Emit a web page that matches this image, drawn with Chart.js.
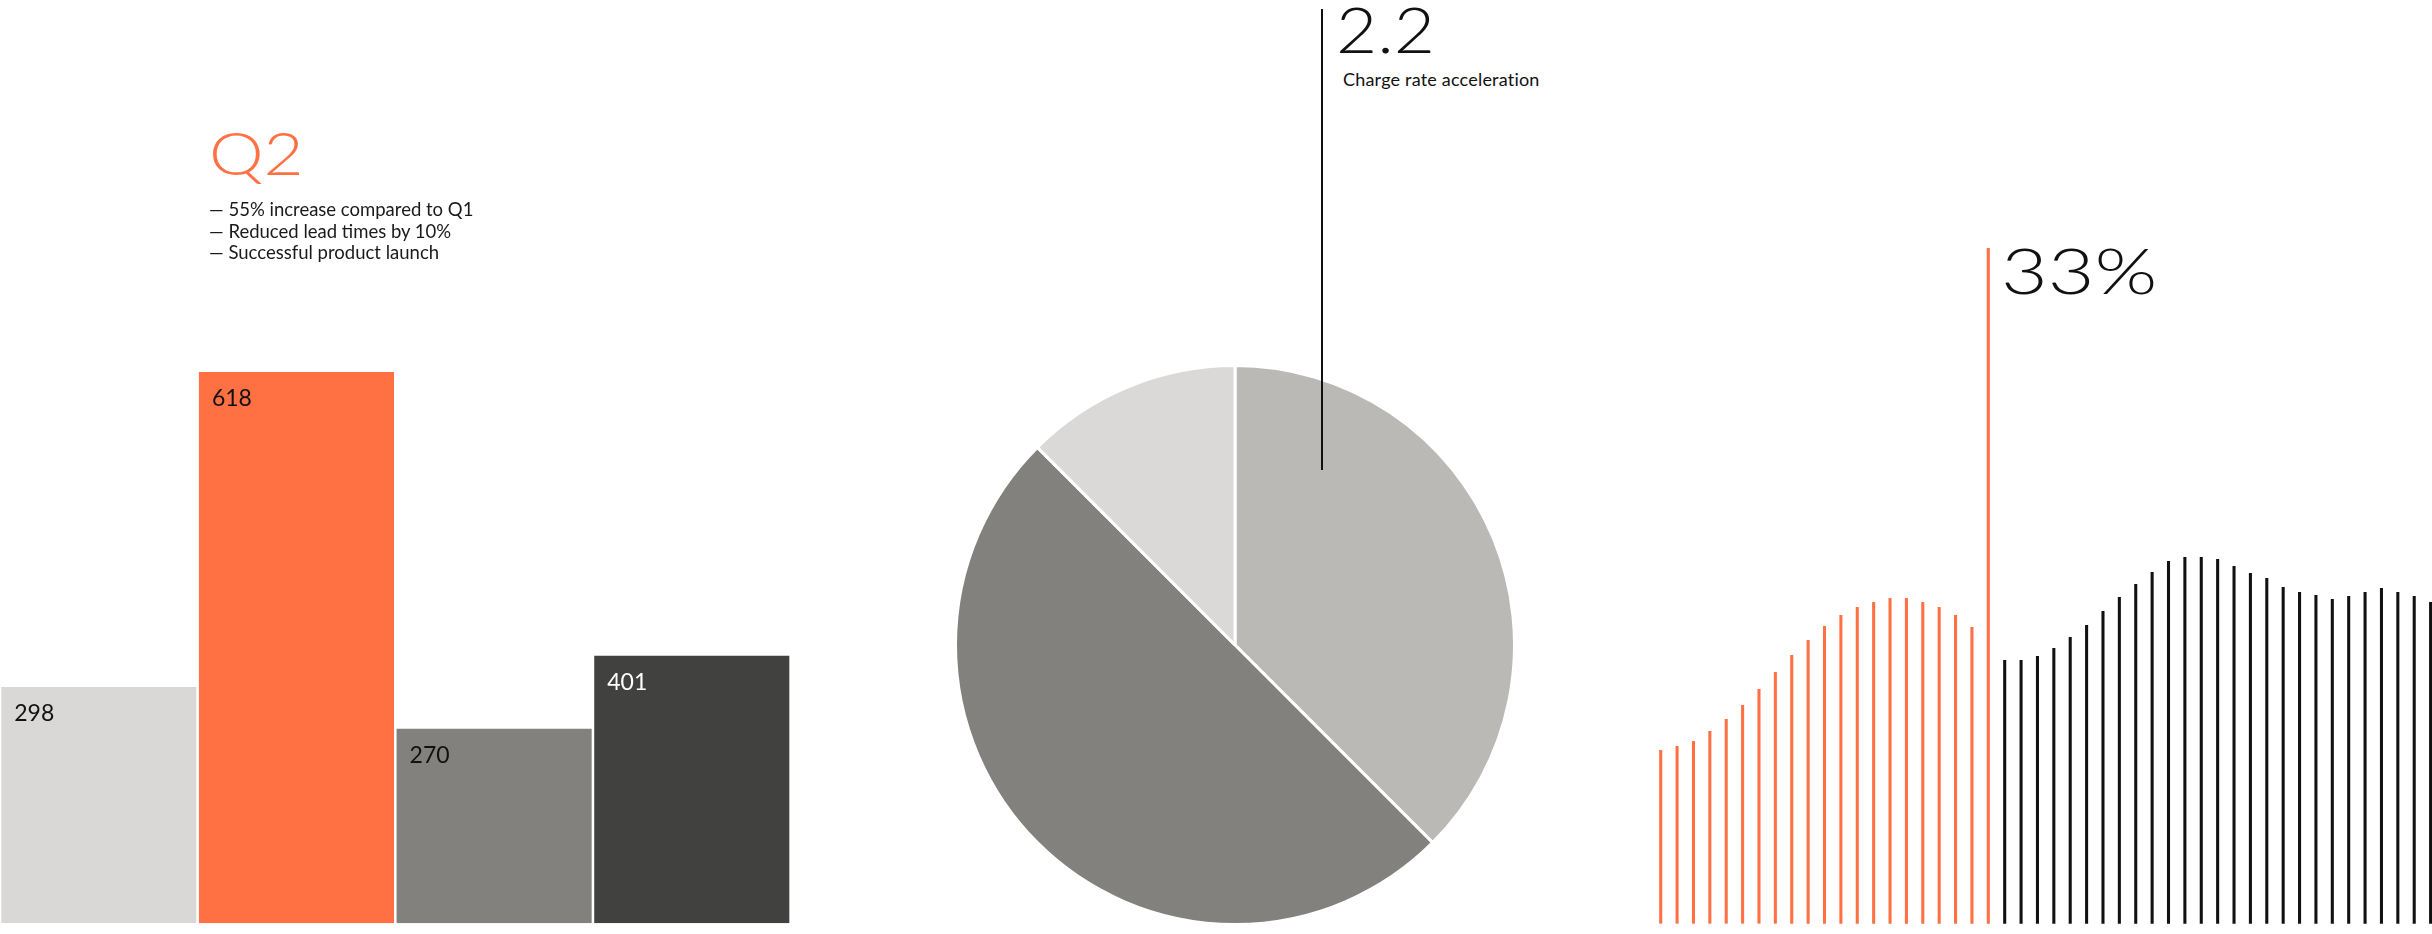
<!DOCTYPE html>
<html>
<head>
<meta charset="utf-8">
<script src="https://cdn.jsdelivr.net/npm/chart.js@4.4.1/dist/chart.umd.min.js"></script>
<style>
  html, body { margin:0; padding:0; background:#ffffff; width:2432px; height:934px; overflow:hidden; }
  canvas { position:absolute; }
  .txt { position:absolute; white-space:nowrap; font-family:'Lato','Inter','Noto Sans',sans-serif; transform-origin:0 0; }
  #q2 { left:209px; top:121.5px; font-size:60px; line-height:60px; font-weight:300; color:#ff7043; transform:scaleX(1.15); }
  #bullets { left:209px; top:199px; font-size:18.5px; line-height:21.7px; font-weight:400; color:#1a1a1a; }
  #bigval { left:1336px; top:-3.5px; font-size:64px; line-height:64px; font-weight:300; color:#111; transform:scaleX(1.11); }
  #caption { left:1343px; top:69.5px; font-size:18px; line-height:18px; font-weight:400; color:#111; letter-spacing:0.2px; }
  #pct { left:2001px; top:237.5px; font-size:64px; line-height:64px; font-weight:300; color:#111; transform:scaleX(1.26); }
  #leader { position:absolute; left:1321px; top:9px; width:1.5px; height:461px; background:#111; }
</style>
</head>
<body>
<canvas id="barChart" width="791" height="934" style="left:0px;top:0px;width:791px;height:934px"></canvas>
<canvas id="pieChart" width="562" height="562" style="left:954px;top:364px;width:562px;height:562px"></canvas>
<canvas id="stemChart" width="792" height="934" style="left:1640px;top:0px;width:792px;height:934px"></canvas>

<div class="txt" id="q2">Q2</div>
<div class="txt" id="bullets">— 55% increase compared to Q1<br>— Reduced lead times by 10%<br>— Successful product launch</div>
<div id="leader"></div>
<div class="txt" id="bigval">2.2</div>
<div class="txt" id="caption">Charge rate acceleration</div>
<div class="txt" id="pct">33%</div>

<script>
// ---------- data ----------
const barCategories = ['Q1', 'Q2', 'Q3', 'Q4'];
const barHeights = [265, 618, 218, 300];          // drawn bar heights
const barLabels = ['298', '618', '270', '401'];   // printed values
const barColors = ['#d9d8d6', '#ff7043', '#82817d', '#41413f'];
const barLabelColors = ['#111111', '#111111', '#111111', '#ffffff'];

const pieLabels = ['Segment A', 'Segment B', 'Segment C'];
const pieValues = [37.5, 50, 12.5];
const pieColors = ['#bab9b5', '#82817d', '#dad9d7'];

const risingValues = [17.3, 17.7, 18.2, 19.2, 20.4, 21.8, 23.4, 25.1, 26.8, 28.3,
                      29.7, 30.8, 31.6, 32.1, 32.5, 32.5, 32.1, 31.6, 30.8, 29.6];
const markerValue = [67.5];
const laterValues = [26.3, 26.3, 26.7, 27.5, 28.6, 29.8, 31.2, 32.6, 33.9, 35.1,
                     36.2, 36.6, 36.6, 36.4, 35.7, 35.0, 34.5, 33.6, 33.1, 32.8,
                     32.4, 32.7, 33.1, 33.5, 33.1, 32.7, 32.1];

// ---------- bar chart ----------
const barLabelPlugin = {
  id: 'barLabelPlugin',
  afterDatasetsDraw(chart) {
    const ctx = chart.ctx;
    const meta = chart.getDatasetMeta(0);
    ctx.save();
    ctx.font = '400 23px Lato, Inter, sans-serif';
    ctx.textBaseline = 'alphabetic';
    ctx.textAlign = 'left';
    meta.data.forEach((bar, i) => {
      const p = bar.getProps(['x', 'y', 'width'], true);
      ctx.fillStyle = barLabelColors[i];
      ctx.fillText(barLabels[i], p.x - p.width / 2 + 13, p.y + 34);
    });
    ctx.restore();
  }
};

new Chart(document.getElementById('barChart'), {
  type: 'bar',
  data: {
    labels: barCategories,
    datasets: [{
      data: barHeights,
      backgroundColor: barColors,
      borderWidth: 0,
      barPercentage: 0.987,
      categoryPercentage: 1.0
    }]
  },
  options: {
    responsive: false,
    animation: false,
    devicePixelRatio: 1,
    layout: { padding: { left: 0, right: 0.4, top: 372, bottom: 10.7 } },
    scales: {
      x: { display: false, offset: true },
      y: { display: false, min: 0, max: 618 }
    },
    plugins: { legend: { display: false }, tooltip: { enabled: false } },
    events: []
  },
  plugins: [barLabelPlugin]
});

// ---------- pie chart ----------
new Chart(document.getElementById('pieChart'), {
  type: 'pie',
  data: {
    labels: pieLabels,
    datasets: [{
      data: pieValues,
      backgroundColor: pieColors,
      borderColor: '#ffffff',
      borderWidth: 3,
      hoverBorderWidth: 3,
      offset: 0,
      hoverOffset: 0
    }]
  },
  options: {
    responsive: false,
    animation: false,
    devicePixelRatio: 1,
    layout: { padding: 0 },
    plugins: { legend: { display: false }, tooltip: { enabled: false } },
    events: []
  }
});

// ---------- stem chart ----------
const stemValues = risingValues.concat(markerValue, laterValues);
const stemLabels = stemValues.map((_, i) => String(i + 1));
const stemColors = stemValues.map((_, i) => i <= risingValues.length ? '#ff7043' : '#111111');

new Chart(document.getElementById('stemChart'), {
  type: 'bar',
  data: {
    labels: stemLabels,
    datasets: [{
      data: stemValues,
      backgroundColor: stemColors,
      borderWidth: 0,
      barThickness: 2.4,
      clip: false
    }]
  },
  options: {
    responsive: false,
    animation: false,
    devicePixelRatio: 1,
    layout: { padding: { left: 20.7, right: 1.4, top: 223.3, bottom: 10.7 } },
    scales: {
      x: { display: false, offset: false },
      y: { display: false, min: 0, max: 70 }
    },
    plugins: { legend: { display: false }, tooltip: { enabled: false } },
    events: []
  }
});
</script>
</body>
</html>
